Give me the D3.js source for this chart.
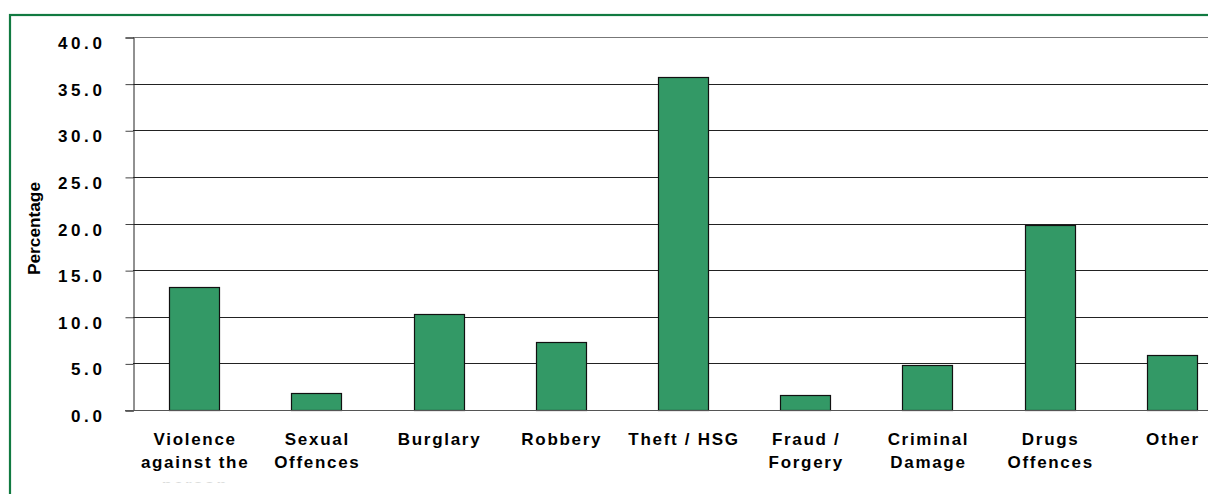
<!DOCTYPE html>
<html>
<head>
<meta charset="utf-8">
<script src="https://cdn.jsdelivr.net/npm/d3@7"></script>
<style>
  html, body { margin: 0; padding: 0; background: #ffffff; }
  svg { display: block; }
</style>
</head>
<body>
<div id="chart"></div>
<script>
// Data
const categories = [
  "Violence against the person", "Sexual Offences", "Burglary", "Robbery",
  "Theft / HSG", "Fraud / Forgery", "Criminal Damage", "Drugs Offences", "Other"
];
const labelLines = [
  ["Violence", "against the", "person"],
  ["Sexual", "Offences"],
  ["Burglary"],
  ["Robbery"],
  ["Theft / HSG"],
  ["Fraud /", "Forgery"],
  ["Criminal", "Damage"],
  ["Drugs", "Offences"],
  ["Other"]
];
const percentages = [13.2, 1.8, 10.3, 7.3, 35.7, 1.6, 4.8, 19.8, 5.9];
const yTicks = [0, 5, 10, 15, 20, 25, 30, 35, 40];
const yLabel = "Percentage";

const width = 1208;
const height = 494;
const font = '"Liberation Sans", Arial, sans-serif';

// plot area (runs off the right edge, like the source)
const plot = { left: 133, top: 37, right: 1233, bottom: 410 };

const svg = d3.select("#chart")
  .append("svg")
  .attr("width", width)
  .attr("height", height);

// green outer frame, cropped at right and bottom
svg.append("rect")
  .attr("x", 10)
  .attr("y", 15)
  .attr("width", 1400)
  .attr("height", 700)
  .attr("fill", "none")
  .attr("stroke", "#117a41")
  .attr("stroke-width", 2.2);

const x = d3.scaleBand()
  .domain(categories)
  .range([plot.left, plot.right])
  .paddingInner(0.59)
  .paddingOuter(0.295);

const y = d3.scaleLinear()
  .domain([0, 40])
  .range([plot.bottom, plot.top]);

// gridlines
svg.append("g")
  .selectAll("line")
  .data(yTicks.filter((d) => d > 0))
  .join("line")
  .attr("x1", plot.left)
  .attr("x2", plot.right)
  .attr("y1", (d) => Math.round(y(d)) + 0.5)
  .attr("y2", (d) => Math.round(y(d)) + 0.5)
  .attr("stroke", (d) => (d === 40 ? "#777" : "#222"))
  .attr("stroke-width", 1);

// y axis (ticks stick out to the left)
const yAxis = d3.axisLeft(y)
  .tickValues(yTicks)
  .tickSize(8)
  .tickFormat(d3.format(".1f"));

const yg = svg.append("g")
  .attr("transform", `translate(${plot.left + 0.5},0.5)`)
  .call(yAxis);

yg.select(".domain").attr("stroke", "#222");
yg.selectAll(".tick line").attr("stroke", "#444");
yg.selectAll(".tick text")
  .attr("x", -28)
  .attr("dy", null)
  .attr("y", 11)
  .attr("fill", "#000")
  .style("font-family", font)
  .style("font-size", "17px")
  .style("font-weight", "bold")
  .style("letter-spacing", "3.6px");

// bars
svg.append("g")
  .selectAll("rect")
  .data(percentages)
  .join("rect")
  .attr("x", (d, i) => Math.round(x(categories[i])) + 0.5)
  .attr("y", (d) => Math.round(y(d)) + 0.5)
  .attr("width", Math.round(x.bandwidth()))
  .attr("height", (d) => Math.round(y(0)) - Math.round(y(d)))
  .attr("fill", "#339966")
  .attr("stroke", "#111")
  .attr("stroke-width", 1.2);

// baseline
svg.append("line")
  .attr("x1", plot.left - 8)
  .attr("x2", plot.right)
  .attr("y1", Math.round(y(0)) + 0.5)
  .attr("y2", Math.round(y(0)) + 0.5)
  .attr("stroke", "#555")
  .attr("stroke-width", 1.2);

// category labels, clipped at the bottom like the original
const defs = svg.append("defs");
defs.append("clipPath")
  .attr("id", "label-clip")
  .append("rect")
  .attr("x", 0)
  .attr("y", 0)
  .attr("width", width)
  .attr("height", 482.5);

const labels = svg.append("g").attr("clip-path", "url(#label-clip)");

labelLines.forEach((lines, i) => {
  const cx = x(categories[i]) + x.bandwidth() / 2 + 1;
  lines.forEach((txt, j) => {
    labels.append("text")
      .attr("x", cx)
      .attr("y", 445 + j * 23)
      .attr("text-anchor", "middle")
      .attr("fill", j === 2 ? "#bbb" : "#000")
      .style("font-family", font)
      .style("font-size", "17px")
      .style("font-weight", "bold")
      .style("letter-spacing", "1.7px")
      .text(txt);
  });
});

// y axis title
svg.append("text")
  .attr("transform", "translate(40,228.5) rotate(-90)")
  .attr("text-anchor", "middle")
  .attr("fill", "#000")
  .attr("textLength", 93)
  .attr("lengthAdjust", "spacingAndGlyphs")
  .style("font-family", font)
  .style("font-size", "17px")
  .style("font-weight", "bold")
  .text(yLabel);
</script>
</body>
</html>
